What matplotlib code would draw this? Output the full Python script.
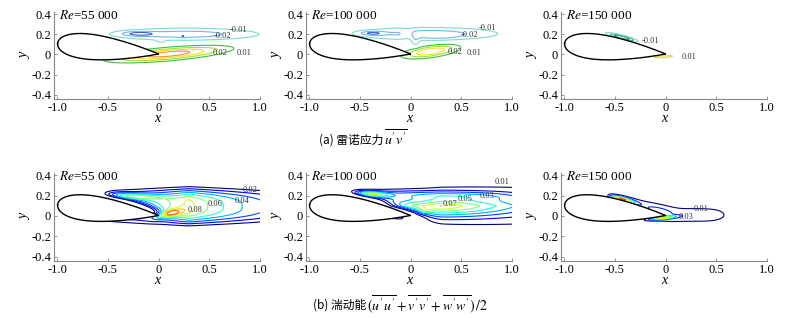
import numpy as np
import matplotlib
matplotlib.use("Agg")
import matplotlib.pyplot as plt
from matplotlib import cm, colors as mcolors

plt.rcParams['font.family'] = ['Liberation Serif', 'DejaVu Serif']
plt.rcParams['mathtext.fontset'] = 'stix'
plt.rcParams['axes.unicode_minus'] = False

# ---------------- data ----------------
reynolds = ['55 000', '100 000', '150 000']
xticks = [-1.0, -0.5, 0.0, 0.5, 1.0]
xticklabels = ['-1.0', '-0.5', '0', '0.5', '1.0']
yticks = [0.4, 0.2, 0.0, -0.2, -0.4]
yticklabels = ['0.4', '0.2', '0', '-0.2', '-0.4']

# airfoil (symmetric section, thickness ratio and angle of attack)
foil_thickness = 0.25
foil_alpha_deg = 6.0

# flow-field components: (cx, cy, sx, sy, angle, amplitude, px, py, growth)
A1_comps = [(0.27, 0.20, 0.75, 0.063, 0, -0.025, 2, 2, 0),
            (-0.20, 0.205, 0.16, 0.022, 0, -0.020, 2, 2, 0),
            (0.24, 0.18, 0.03, 0.012, 0, -0.008, 2, 2, 0),
            (0.02, 0.13, 0.05, 0.03, 0, -0.006, 2, 2, 0),
            (0.10, 0.005, 0.52, 0.055, 5, 0.047, 2, 2, 0)]
A2_comps = [(0.17, 0.205, 0.72, 0.065, 0, -0.025, 2, 2, 0),
            (-0.38, 0.21, 0.12, 0.020, 0, -0.020, 2, 2, 0),
            (0.30, 0.175, 0.20, 0.035, 0, -0.006, 2, 2, 0),
            (0.05, 0.12, 0.04, 0.05, 0, -0.012, 2, 2, 0),
            (-0.03, 0.20, 0.06, 0.05, 0, 0.008, 2, 2, 0),
            (0.20, 0.03, 0.255, 0.053, 8, 0.040, 2, 2, 0)]
A3_comps = [(-0.43, 0.170, 0.14, 0.020, -14, -0.040, 2, 2, 0),
            (-0.02, -0.022, 0.14, 0.013, 4, 0.015, 2, 2, 0)]
B1_comps = [(0.30, 0.095, 1.01, 0.17, 0, 0.084, 1, 3, 0),
            (-0.30, 0.195, 0.30, 0.030, -3, 0.040, 2, 2, 0),
            (0.10, 0.02, 0.13, 0.035, 12, 0.050, 2, 2, 0),
            (-0.33, 0.115, 0.38, 0.055, -15, -0.060, 4, 2, 0)]
B2_comps = [(0.30, 0.10, 1.30, 0.11, 0, 0.060, 1, 1.3, 0.5),
            (0.35, 0.075, 0.60, 0.085, 0, 0.022, 2, 2, 0),
            (0.15, 0.05, 0.07, 0.030, 15, 0.012, 2, 2, 0),
            (-0.38, 0.215, 0.16, 0.025, -4, 0.050, 2, 2, 0),
            (0.20, 0.205, 0.85, 0.045, -1, 0.022, 4, 2, 0),
            (-0.30, 0.11, 0.43, 0.045, -15, -0.045, 4, 2, 0)]
B3_comps = [(-0.27, 0.115, 0.33, 0.060, -14, 0.016, 4, 2, 0),
            (0.22, 0.010, 0.43, 0.090, 0, 0.016, 4, 2, 0),
            (-0.43, 0.165, 0.12, 0.020, -14, 0.050, 2, 2, 0),
            (-0.03, -0.02, 0.13, 0.014, 6, 0.040, 2, 2, 0)]
A_onset = [-2.0, -2.0, -2.0]
B_onset = [-0.72, -0.72, -0.57]

A1_levels = [-0.03, -0.02, -0.01, 0.01, 0.02, 0.03, 0.04]
A2_levels = [-0.03, -0.02, -0.01, 0.01, 0.02, 0.03]
A3_levels = [-0.03, -0.02, -0.01, 0.01]
B1_levels = [0.02, 0.03, 0.04, 0.05, 0.06, 0.07, 0.08, 0.09, 0.10, 0.11]
B2_levels = [0.01, 0.02, 0.03, 0.04, 0.05, 0.06, 0.07, 0.08, 0.09]
B3_levels = [0.01, 0.02, 0.03, 0.04, 0.05, 0.06]

A1_labels = ['-0.01', '-0.02', '0.02', '0.01']
A1_label_pos = [(0.79, 0.24), (0.63, 0.185), (0.61, 0.01), (0.84, 0.01)]
A2_labels = ['-0.01', '-0.02', '0.02', '0.01']
A2_label_pos = [(0.76, 0.265), (0.58, 0.19), (0.44, 0.02), (0.63, 0.01)]
A3_labels = ['-0.01', '0.01']
A3_label_pos = [(-0.15, 0.135), (0.23, -0.025)]
B1_labels = ['0.02', '0.04', '0.06', '0.08']
B1_label_pos = [(0.9, 0.255), (0.82, 0.15), (0.56, 0.12), (0.36, 0.06)]
B2_labels = ['0.01', '0.03', '0.05', '0.07']
B2_label_pos = [(0.9, 0.33), (0.75, 0.2), (0.54, 0.17), (0.39, 0.115)]
B3_labels = ['0.01', '0.03']
B3_label_pos = [(0.35, 0.07), (0.2, -0.01)]

# ---------------- styles ----------------
A_colors = {-0.03: '#3a5fd8', -0.02: '#78b4ea', -0.01: '#7cdccb',
            0.01: '#3cc23c', 0.02: '#a6e03a', 0.03: '#f2e02a', 0.04: '#f2902a'}
A3_colors = {-0.03: '#1f8f7a', -0.02: '#3cb896', -0.01: '#7cdccb', 0.01: '#e6d458'}
B_vmax = [0.12, 0.11, 0.07]


def airfoil(t, alpha_deg, n=120):
    s = (1 - np.cos(np.linspace(0, np.pi, n))) / 2
    yt = 5 * t * (0.2969 * np.sqrt(s) - 0.1260 * s - 0.3516 * s**2
                  + 0.2843 * s**3 - 0.1036 * s**4)
    a = np.radians(alpha_deg)
    xu = -(1 - s) * np.cos(a) + yt * np.sin(a)
    yu = (1 - s) * np.sin(a) + yt * np.cos(a) + 0.005
    xl = -(1 - s) * np.cos(a) - yt * np.sin(a)
    yl = (1 - s) * np.sin(a) - yt * np.cos(a) + 0.005
    xs = np.concatenate([xu, xl[::-1]])
    ys = np.concatenate([yu, yl[::-1]])
    return xs, ys


def field(X, Y, comps, onset):
    F = np.zeros_like(X)
    for cx, cy, sx, sy, ang, amp, px, py, g in comps:
        t = np.radians(ang)
        u = (X - cx) * np.cos(t) + (Y - cy) * np.sin(t)
        v = -(X - cx) * np.sin(t) + (Y - cy) * np.cos(t)
        syy = sy * np.clip(1 + g * u, 0.2, None)
        F += amp * np.exp(-(np.abs(u / sx) ** px + np.abs(v / syy) ** py))
    F *= 1.0 / (1.0 + np.exp(-(X - onset) / 0.02))
    return F


gx = np.linspace(-1.05, 1.05, 600)
gy = np.linspace(-0.46, 0.46, 320)
X, Y = np.meshgrid(gx, gy)
fx, fy = airfoil(foil_thickness, foil_alpha_deg)

W, H = 799, 318
fig = plt.figure(figsize=(W / 100, H / 100), dpi=100)

col_left = [54, 306, 561]
col_w = 206
row_top = [12, 173]
row_h = [87, 88]

panels = [
    (0, 0, A1_comps, A_onset[0], A1_levels, A1_labels, A1_label_pos, None),
    (0, 1, A2_comps, A_onset[1], A2_levels, A2_labels, A2_label_pos, None),
    (0, 2, A3_comps, A_onset[2], A3_levels, A3_labels, A3_label_pos, None),
    (1, 0, B1_comps, B_onset[0], B1_levels, B1_labels, B1_label_pos, B_vmax[0]),
    (1, 1, B2_comps, B_onset[1], B2_levels, B2_labels, B2_label_pos, B_vmax[1]),
    (1, 2, B3_comps, B_onset[2], B3_levels, B3_labels, B3_label_pos, B_vmax[2]),
]

for r, c, comps, onset, levels, labs, labpos, vmax in panels:
    left = col_left[c] / W
    bottom = 1 - (row_top[r] + row_h[r]) / H
    ax = fig.add_axes([left, bottom, col_w / W, row_h[r] / H])
    F = field(X, Y, comps, onset)
    if vmax is None:
        cmap_d = A3_colors if c == 2 else A_colors
        cols = [cmap_d[l] for l in levels]
    else:
        norm = mcolors.Normalize(vmin=levels[0], vmax=vmax)
        cols = [cm.jet(norm(l)) for l in levels]
    ax.contour(X, Y, F, levels=levels, colors=cols, linewidths=0.8, zorder=2)
    ax.fill(fx, fy, color='white', zorder=3, lw=0)
    ax.plot(fx, fy, color='black', lw=1.0, zorder=4)
    for t, (lx, ly) in zip(labs, labpos):
        ax.text(lx, ly, t, fontsize=6, ha='center', va='center', zorder=5,
                color='#333333')
    ax.set_xlim(-1.03, 1.0)
    ax.set_ylim(-0.44, 0.42)
    ax.set_xticks(xticks)
    ax.set_xticklabels(xticklabels)
    ax.set_yticks(yticks)
    ax.set_yticklabels(yticklabels)
    for s in ['top', 'right']:
        ax.spines[s].set_visible(False)
    for s in ['left', 'bottom']:
        ax.spines[s].set_color('#888888')
        ax.spines[s].set_linewidth(0.8)
    ax.tick_params(direction='in', length=2, width=0.6, color='#888888',
                   labelsize=9, pad=2)
    ax.set_xlabel('x', style='italic', fontsize=10, labelpad=-1)
    ax.set_ylabel('y', style='italic', fontsize=10, labelpad=0)
    ax.text(-0.98, 0.385, r'$\mathit{Re}$=' + reynolds[c], fontsize=9.5,
            ha='left', va='center', zorder=6)

cjk = ['Noto Sans CJK SC', 'DejaVu Sans']
fig.text(383 / W, 1 - 140 / H, '(a) 雷诺应力', family=cjk, fontsize=8.5,
         ha='right', va='center')
fig.text(384 / W, 1 - 139 / H, r"$\overline{u'v'}$", fontsize=10,
         ha='left', va='center')
fig.text(366 / W, 1 - 305 / H, '(b) 湍动能', family=cjk, fontsize=8.5,
         ha='right', va='center')
fig.text(367 / W, 1 - 304 / H,
         r"$(\overline{u'u'}+\overline{v'v'}+\overline{w'w'})\,/2$",
         fontsize=10, ha='left', va='center')

fig.savefig('out.png', dpi=100)
